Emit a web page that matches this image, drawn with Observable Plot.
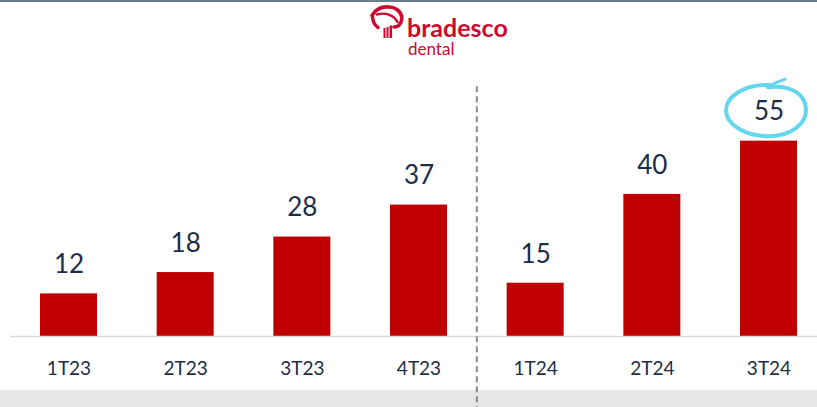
<!DOCTYPE html>
<html>
<head>
<meta charset="utf-8">
<script src="https://cdn.jsdelivr.net/npm/d3@7"></script>
<script src="https://cdn.jsdelivr.net/npm/@observablehq/plot@0.6"></script>
<style>
  html, body { margin: 0; padding: 0; background: #fff; }
  #wrap { position: relative; width: 817px; height: 407px; overflow: hidden; font-family: Lato, "Noto Sans", sans-serif; }
  #topline { position: absolute; left: 0; top: 0; width: 817px; height: 2px; background: #6b7c8c; }
  #band { position: absolute; left: 0; top: 390px; width: 817px; height: 17px; background: #e6e6e6; }
  #chart { position: absolute; left: 0; top: 0; }
  #logo { position: absolute; left: 366px; top: 4px; width: 160px; height: 56px; }
</style>
</head>
<body>
<div id="wrap">
  <div id="topline"></div>
  <div id="band"></div>
  <div id="chart"></div>
  <svg id="logo" width="160" height="56" viewBox="366 4 160 56">
    <g fill="none" stroke="#cc092f" stroke-linecap="round">
      <path d="M372 15.5 C376 8.5 383 6.5 389 7 C397 7.5 403 13 401.5 20.5 C400.5 25 397.5 27 394 27" stroke-width="3.6"/>
      <path d="M372.5 16 C372.5 21 374.5 25 378 27.5" stroke-width="3.4"/>
      <path d="M377 14.5 C386 12 394 15.5 397.5 22" stroke-width="2.4"/>
    </g>
    <g fill="#cc092f">
      <rect x="383.5" y="28" width="2" height="10"/>
      <rect x="386.5" y="27" width="2" height="11"/>
      <rect x="389.5" y="25.5" width="2.6" height="12.5"/>
    </g>
    <text x="407" y="37" fill="#cc092f" font-family="Lato, 'Noto Sans', sans-serif" font-weight="700" font-size="25">bradesco</text>
    <text x="408" y="55" fill="#cc092f" font-family="Lato, 'Noto Sans', sans-serif" font-size="17">dental</text>
  </svg>
</div>
<script>
const quarters = ["1T23", "2T23", "3T23", "4T23", "1T24", "2T24", "3T24"];
const values = [12, 18, 28, 37, 15, 40, 55];
const dividerBefore = "1T24";
const highlighted = "3T24";

const data = quarters.map((q, i) => ({quarter: q, value: values[i]}));

const chart = Plot.plot({
  width: 817,
  height: 407,
  marginLeft: 10,
  marginRight: 0,
  marginTop: 0,
  marginBottom: 71,
  style: {background: "transparent", overflow: "visible", fontFamily: "Lato, 'Noto Sans', sans-serif"},
  x: {domain: quarters, paddingInner: 0.5114, paddingOuter: 0.2143, align: 0.6, round: false, label: null},
  y: {domain: [0, 94.6], axis: null},
  marks: [
    Plot.barY(data, {x: "quarter", y: "value", fill: "#c00000"}),
    Plot.ruleY([0], {stroke: "#d9d9d9", strokeWidth: 1.5}),
    Plot.text(data, {x: "quarter", y: "value", text: d => String(d.value), dy: -29, lineAnchor: "middle", fontSize: 26, fill: "#1c2d47"}),
    Plot.axisX({tickSize: 0, tickPadding: 25, fontSize: 19, fill: "#1c2d47", label: null})
  ]
});
document.getElementById("chart").appendChild(chart);

// scale-derived annotations
const sx = chart.scale("x");
const sy = chart.scale("y");
const svg = d3.select(chart);
const idx = quarters.indexOf(dividerBefore);
const xDiv = sx.apply(quarters[idx - 1]) + sx.bandwidth + (sx.step - sx.bandwidth) / 2;
svg.append("line")
  .attr("x1", xDiv).attr("x2", xDiv)
  .attr("y1", sy.apply(70.3)).attr("y2", 407)
  .attr("stroke", "#8a8a8a").attr("stroke-width", 2).attr("stroke-dasharray", "6,4");

const hv = values[quarters.indexOf(highlighted)];
const cx = sx.apply(highlighted) + sx.bandwidth / 2 - 2.5;
const cy = sy.apply(hv) - 30.5;
const rx = 40, ry = 26;
svg.append("path")
  .attr("d", `M ${cx + 6} ${cy - ry + 1} C ${cx - 22} ${cy - ry - 1}, ${cx - rx} ${cy - 13}, ${cx - rx} ${cy}` +
             ` C ${cx - rx} ${cy + 15}, ${cx - 20} ${cy + ry}, ${cx + 2} ${cy + ry}` +
             ` C ${cx + 26} ${cy + ry}, ${cx + rx} ${cy + 13}, ${cx + rx} ${cy}` +
             ` C ${cx + rx} ${cy - 15}, ${cx + 26} ${cy - ry}, ${cx + 2} ${cy - ry + 3}`)
  .attr("fill", "none").attr("stroke", "#64d6f0").attr("stroke-width", 4).attr("stroke-linecap", "round");
svg.append("path")
  .attr("d", `M ${cx + 2} ${cy - ry + 2} C ${cx + 8} ${cy - ry - 1}, ${cx + 14} ${cy - ry - 3}, ${cx + 19} ${cy - ry - 5}`)
  .attr("fill", "none").attr("stroke", "#64d6f0").attr("stroke-width", 3).attr("stroke-linecap", "round");
</script>
</body>
</html>
